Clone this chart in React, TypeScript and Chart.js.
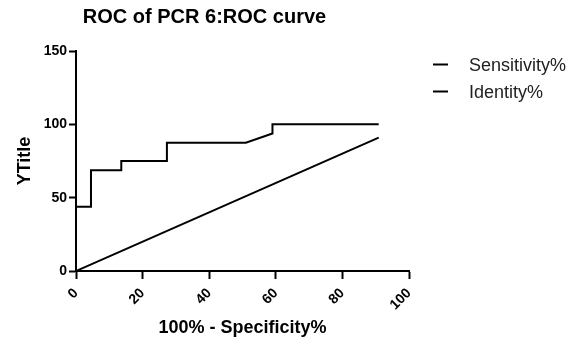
import React, { useEffect, useRef } from "react";
import { Chart, registerables } from "chart.js";

Chart.register(...registerables);

const chartTitle = "ROC of PCR 6:ROC curve";
const xTitle = "100% - Specificity%";
const yTitle = "YTitle";

const rocLabel = "Sensitivity%";
const rocX = [0, 0, 4.5, 4.5, 13.6, 13.6, 27.3, 27.3, 51, 59, 59, 90.9];
const rocY = [0, 43.75, 43.75, 68.75, 68.75, 75, 75, 87.5, 87.5, 93.75, 100, 100];

const identityLabel = "Identity%";
const identityX = [0, 90.9];
const identityY = [0, 90.9];

const xMin = 0;
const xMax = 100;
const xStep = 20;
const yMin = 0;
const yMax = 150;
const yStep = 50;

const FONT = "'Liberation Sans', Arial, Helvetica, sans-serif";

const legendPlugin = {
  id: "sideLegend",
  afterDraw(chart: any) {
    const ctx = chart.ctx;
    ctx.save();
    chart.data.datasets.forEach((ds: any, i: number) => {
      const y = 64.5 + i * 27;
      ctx.strokeStyle = ds.borderColor;
      ctx.lineWidth = 2;
      ctx.beginPath();
      ctx.moveTo(433, y);
      ctx.lineTo(448, y);
      ctx.stroke();
      ctx.fillStyle = "#222";
      ctx.font = `18px ${FONT}`;
      ctx.textAlign = "left";
      ctx.textBaseline = "middle";
      ctx.fillText(ds.label, 469, y + 1.5);
    });
    ctx.restore();
  },
};

export default function App() {
  const ref = useRef<HTMLCanvasElement | null>(null);
  useEffect(() => {
    if (!ref.current) return;
    const chart = new Chart(ref.current, {
      type: "line",
      data: {
        datasets: [
          {
            label: rocLabel,
            data: rocX.map((x, i) => ({ x, y: rocY[i] })),
            borderColor: "#000",
            borderWidth: 2,
            pointRadius: 0,
            fill: false,
            tension: 0,
          },
          {
            label: identityLabel,
            data: identityX.map((x, i) => ({ x, y: identityY[i] })),
            borderColor: "#000",
            borderWidth: 2,
            pointRadius: 0,
            fill: false,
            tension: 0,
          },
        ],
      },
      options: {
        animation: false,
        responsive: true,
        maintainAspectRatio: false,
        layout: { padding: { left: 0, right: 168, top: 0, bottom: 0 } },
        plugins: {
          legend: { display: false },
          tooltip: { enabled: false },
          title: {
            display: true,
            text: chartTitle,
            color: "#000",
            font: { family: FONT, size: 20, weight: "bold" },
            padding: { top: 5, bottom: 22 },
          },
        },
        scales: {
          x: {
            type: "linear",
            min: xMin,
            max: xMax,
            afterFit: (s: any) => {
              s.height = 70;
            },
            ticks: {
              stepSize: xStep,
              autoSkip: false,
              minRotation: 45,
              maxRotation: 45,
              color: "#000",
              padding: 6,
              font: { family: FONT, size: 14, weight: "bold" },
            },
            grid: {
              display: true,
              drawOnChartArea: false,
              drawTicks: true,
              tickLength: 8,
              tickColor: "#000",
              tickWidth: 2,
            },
            border: { display: true, color: "#000", width: 2 },
            title: {
              display: true,
              text: xTitle,
              color: "#000",
              font: { family: FONT, size: 18, weight: "bold" },
              padding: { top: 0, bottom: 2 },
            },
          },
          y: {
            type: "linear",
            min: yMin,
            max: yMax,
            afterFit: (s: any) => {
              s.width = 76;
            },
            ticks: {
              stepSize: yStep,
              color: "#000",
              padding: 2,
              font: { family: FONT, size: 14, weight: "bold" },
            },
            grid: {
              display: true,
              drawOnChartArea: false,
              drawTicks: true,
              tickLength: 7,
              tickColor: "#000",
              tickWidth: 2,
            },
            border: { display: true, color: "#000", width: 2 },
            title: {
              display: true,
              text: yTitle,
              color: "#000",
              font: { family: FONT, size: 18, weight: "bold" },
              padding: { top: 14, bottom: 0 },
            },
          },
        },
      },
      plugins: [legendPlugin],
    });
    return () => chart.destroy();
  }, []);
  return (
    <div style={{ position: "fixed", left: 0, top: 0, width: 577, height: 341, background: "#fff" }}>
      <canvas ref={ref} />
    </div>
  );
}
